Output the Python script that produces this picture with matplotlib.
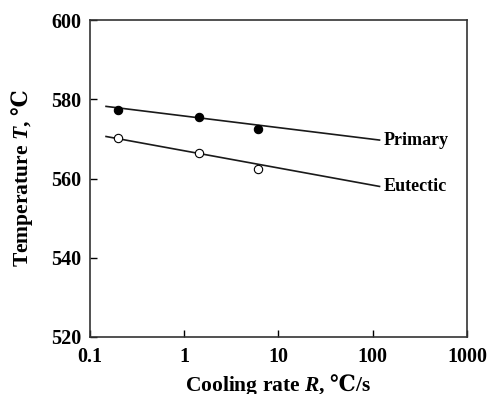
import matplotlib
matplotlib.use("Agg")
import matplotlib.pyplot as plt

# measured points
rate = [0.2, 1.45, 6.0]
primary = [577.3, 575.5, 572.5]
eutectic = [570.3, 566.5, 562.4]

# fitted lines (end points)
fit_rate = [0.148, 118]
primary_fit = [578.2, 569.7]
eutectic_fit = [570.6, 558.0]

xticks = [0.1, 1, 10, 100, 1000]
xtick_labels = ["0.1", "1", "10", "100", "1000"]
yticks = [520, 540, 560, 580, 600]

plt.rcParams['font.family'] = ['Liberation Serif', 'DejaVu Serif']
plt.rcParams['font.weight'] = 'bold'
plt.rcParams['mathtext.fontset'] = 'custom'
plt.rcParams['mathtext.it'] = 'Liberation Serif:italic:bold'
plt.rcParams['mathtext.rm'] = 'Liberation Serif:bold'
# Liberation Serif has no degree-Celsius sign, borrow it from DejaVu
plt.rcParams['mathtext.sf'] = 'DejaVu Serif:bold'

fig = plt.figure(figsize=(4.89, 3.94), dpi=100)
ax = fig.add_axes([90 / 489, 1 - 337 / 394, 377 / 489, 317 / 394])

ax.plot(fit_rate, primary_fit, color="#1a1a1a", lw=1.2)
ax.plot(fit_rate, eutectic_fit, color="#1a1a1a", lw=1.2)
ax.plot(rate, primary, "o", ms=6, mfc="black", mec="black", mew=0.8)
ax.plot(rate, eutectic, "o", ms=6, mfc="white", mec="black", mew=0.8)

ax.text(130, primary_fit[1], "Primary", fontsize=13, fontweight="bold",
        va="center", ha="left")
ax.text(130, eutectic_fit[1], "Eutectic", fontsize=13, fontweight="bold",
        va="center", ha="left")

ax.set_xscale("log")
ax.set_xlim(0.1, 1000)
ax.set_ylim(520, 600)
ax.set_xticks(xticks)
ax.set_xticklabels(xtick_labels)
ax.set_yticks(yticks)
ax.minorticks_off()
ax.tick_params(direction="in", length=5, width=1, labelsize=14.5)
ax.tick_params(axis="x", pad=7)
ax.tick_params(axis="y", pad=6)
for lab in ax.get_xticklabels() + ax.get_yticklabels():
    lab.set_fontweight("bold")
for s in ax.spines.values():
    s.set_linewidth(1.2)
    s.set_color("#333333")

ax.set_xlabel("Cooling rate $R$, $\\mathsf{\u2103}$/s", fontsize=15.5,
              fontweight="bold", labelpad=4)
ax.set_ylabel("Temperature $T$, $\\mathsf{\u2103}$", fontsize=15.5,
              fontweight="bold", labelpad=12)

fig.savefig("out.png", dpi=100)
